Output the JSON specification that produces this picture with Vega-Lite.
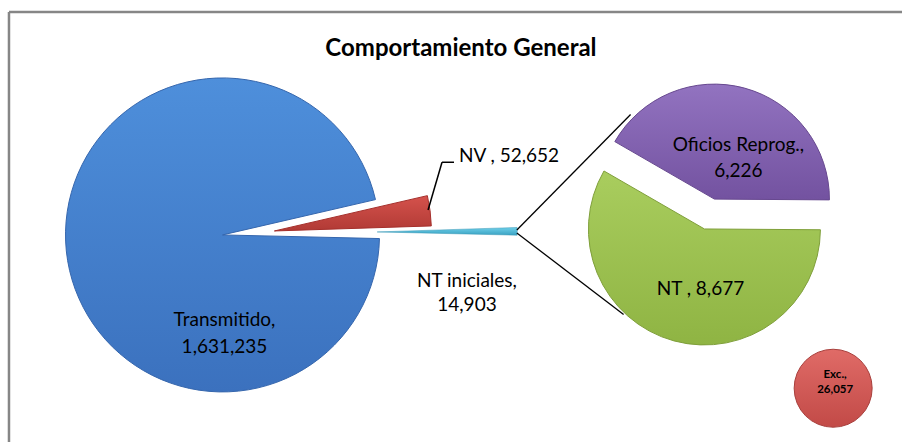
{
  "$schema": "https://vega.github.io/schema/vega-lite/v6.json",
  "autosize": {"type": "fit", "contains": "padding"},
  "width": 904,
  "height": 444,
  "padding": 0,
  "background": "white",
  "config": {"view": {"stroke": null}, "text": {"font": "Lato", "fontSize": 19, "color": "#000000"}},
  "datasets": {
    "left": [
      {"cat": "NV", "value": 52652, "ord": 1},
      {"cat": "NT iniciales", "value": 14903, "ord": 2},
      {"cat": "Transmitido", "value": 1631235, "ord": 3}
    ],
    "right": [
      {"cat": "Oficios Reprog.", "value": 6226, "ord": 1},
      {"cat": "NT", "value": 8677, "ord": 2}
    ],
    "exc": [
      {"cat": "Exc.", "value": 26057, "ord": 1}
    ],
    "one": [{"title": "Comportamiento General"}]
  },
  "resolve": {"scale": {"theta": "independent"}},
  "layer": [
    {
      "data": {"name": "one"},
      "mark": {"type": "rule", "color": "#868686", "strokeWidth": 2.5},
      "encoding": {
        "x": {"datum": 9, "type": "quantitative", "scale": {"domain": [0, 904], "nice": false, "zero": false}, "axis": null},
        "y": {"datum": 12, "type": "quantitative", "scale": {"domain": [0, 444], "nice": false, "zero": false, "reverse": true}, "axis": null},
        "y2": {"datum": 444}
      }
    },
    {
      "data": {"name": "one"},
      "mark": {"type": "rule", "color": "#868686", "strokeWidth": 2.5},
      "encoding": {
        "x": {"datum": 9, "type": "quantitative"},
        "x2": {"datum": 904},
        "y": {"datum": 12, "type": "quantitative"}
      }
    },
    {
      "data": {"name": "one"},
      "mark": {"type": "text", "fontSize": 24, "fontWeight": "bold", "align": "center", "baseline": "middle"},
      "encoding": {
        "x": {"datum": 462, "type": "quantitative"},
        "y": {"datum": 49, "type": "quantitative"},
        "text": {"field": "title"}
      }
    },
    {
      "data": {"name": "left"},
      "transform": [
        {"stack": "value", "groupby": [], "sort": [{"field": "ord", "order": "ascending"}], "offset": "normalize", "as": ["t0", "t1"]},
        {"filter": "datum.cat === 'Transmitido'"}
      ],
      "mark": {"type": "arc", "radius": 157, "stroke": "#3566ad", "strokeWidth": 1,
        "fill": {"gradient": "linear", "x1": 0, "y1": 0, "x2": 0, "y2": 1, "stops": [{"offset": 0, "color": "#4e8fdb"}, {"offset": 1, "color": "#3b71be"}]}},
      "encoding": {
        "x": {"datum": 223, "type": "quantitative"},
        "y": {"datum": 236, "type": "quantitative"},
        "theta": {"field": "t0", "type": "quantitative", "scale": {"domain": [0, 1], "range": [1.344, 7.627]}},
        "theta2": {"field": "t1"}
      }
    },
    {
      "data": {"name": "left"},
      "transform": [
        {"stack": "value", "groupby": [], "sort": [{"field": "ord", "order": "ascending"}], "offset": "normalize", "as": ["t0", "t1"]},
        {"filter": "datum.cat === 'NV'"}
      ],
      "mark": {"type": "arc", "radius": 157, "stroke": "#a52f2b", "strokeWidth": 1,
        "fill": {"gradient": "linear", "x1": 0, "y1": 0, "x2": 0, "y2": 1, "stops": [{"offset": 0, "color": "#d5524c"}, {"offset": 1, "color": "#b13a35"}]}},
      "encoding": {
        "x": {"datum": 275, "type": "quantitative"},
        "y": {"datum": 232, "type": "quantitative"},
        "theta": {"field": "t0", "type": "quantitative", "scale": {"domain": [0, 1], "range": [1.344, 7.627]}},
        "theta2": {"field": "t1"}
      }
    },
    {
      "data": {"name": "left"},
      "transform": [
        {"stack": "value", "groupby": [], "sort": [{"field": "ord", "order": "ascending"}], "offset": "normalize", "as": ["t0", "t1"]},
        {"filter": "datum.cat === 'NT iniciales'"}
      ],
      "mark": {"type": "arc", "radius": 140, "stroke": "#3797b4", "strokeWidth": 0.5,
        "fill": {"gradient": "linear", "x1": 0, "y1": 0, "x2": 0, "y2": 1, "stops": [{"offset": 0, "color": "#6fd0ea"}, {"offset": 1, "color": "#3aa2c2"}]}},
      "encoding": {
        "x": {"datum": 378, "type": "quantitative"},
        "y": {"datum": 233, "type": "quantitative"},
        "theta": {"field": "t0", "type": "quantitative", "scale": {"domain": [0, 1], "range": [1.344, 7.627]}},
        "theta2": {"field": "t1"}
      }
    },
    {
      "data": {"name": "right"},
      "transform": [
        {"stack": "value", "groupby": [], "sort": [{"field": "ord", "order": "ascending"}], "offset": "normalize", "as": ["t0", "t1"]},
        {"filter": "datum.cat === 'Oficios Reprog.'"}
      ],
      "mark": {"type": "arc", "radius": 115, "stroke": "#67488f", "strokeWidth": 1,
        "fill": {"gradient": "linear", "x1": 0, "y1": 0, "x2": 0, "y2": 1, "stops": [{"offset": 0, "color": "#9273c0"}, {"offset": 1, "color": "#7352a0"}]}},
      "encoding": {
        "x": {"datum": 716, "type": "quantitative"},
        "y": {"datum": 200, "type": "quantitative"},
        "theta": {"field": "t0", "type": "quantitative", "scale": {"domain": [0, 1], "range": [5.236, 11.519]}},
        "theta2": {"field": "t1"}
      }
    },
    {
      "data": {"name": "right"},
      "transform": [
        {"stack": "value", "groupby": [], "sort": [{"field": "ord", "order": "ascending"}], "offset": "normalize", "as": ["t0", "t1"]},
        {"filter": "datum.cat === 'NT'"}
      ],
      "mark": {"type": "arc", "radius": 116, "stroke": "#7f9f3a", "strokeWidth": 1,
        "fill": {"gradient": "linear", "x1": 0, "y1": 0, "x2": 0, "y2": 1, "stops": [{"offset": 0, "color": "#a9cd5e"}, {"offset": 1, "color": "#8fb443"}]}},
      "encoding": {
        "x": {"datum": 706, "type": "quantitative"},
        "y": {"datum": 230, "type": "quantitative"},
        "theta": {"field": "t0", "type": "quantitative", "scale": {"domain": [0, 1], "range": [5.236, 11.519]}},
        "theta2": {"field": "t1"}
      }
    },
    {
      "data": {"name": "exc"},
      "transform": [
        {"stack": "value", "groupby": [], "offset": "normalize", "as": ["t0", "t1"]}
      ],
      "mark": {"type": "arc", "radius": 39, "stroke": "#a83f3c", "strokeWidth": 1,
        "fill": {"gradient": "linear", "x1": 0, "y1": 0, "x2": 0, "y2": 1, "stops": [{"offset": 0, "color": "#e06b67"}, {"offset": 1, "color": "#c24a47"}]}},
      "encoding": {
        "x": {"datum": 835, "type": "quantitative"},
        "y": {"datum": 390, "type": "quantitative"},
        "theta": {"field": "t0", "type": "quantitative", "scale": {"domain": [0, 1], "range": [0, 6.2832]}},
        "theta2": {"field": "t1"}
      }
    },
    {
      "data": {"name": "one"},
      "mark": {"type": "rule", "color": "#000000", "strokeWidth": 1.5},
      "encoding": {
        "x": {"datum": 429, "type": "quantitative"},
        "y": {"datum": 211, "type": "quantitative"},
        "x2": {"datum": 443},
        "y2": {"datum": 163}
      }
    },
    {
      "data": {"name": "one"},
      "mark": {"type": "rule", "color": "#000000", "strokeWidth": 1.5},
      "encoding": {
        "x": {"datum": 443, "type": "quantitative"},
        "y": {"datum": 163, "type": "quantitative"},
        "x2": {"datum": 455}
      }
    },
    {
      "data": {"name": "one"},
      "mark": {"type": "rule", "color": "#000000", "strokeWidth": 1.3},
      "encoding": {
        "x": {"datum": 518, "type": "quantitative"},
        "y": {"datum": 231, "type": "quantitative"},
        "x2": {"datum": 632},
        "y2": {"datum": 115}
      }
    },
    {
      "data": {"name": "one"},
      "mark": {"type": "rule", "color": "#000000", "strokeWidth": 1.3},
      "encoding": {
        "x": {"datum": 518, "type": "quantitative"},
        "y": {"datum": 234, "type": "quantitative"},
        "x2": {"datum": 625},
        "y2": {"datum": 316}
      }
    },
    {
      "data": {"name": "left"},
      "transform": [
        {"filter": "datum.cat === 'Transmitido'"},
        {"calculate": "[datum.cat + ',', format(datum.value, ',')]", "as": "label"}
      ],
      "mark": {"type": "text", "align": "center", "baseline": "middle", "lineHeight": 27},
      "encoding": {
        "x": {"datum": 225, "type": "quantitative"},
        "y": {"datum": 321, "type": "quantitative"},
        "text": {"field": "label"}
      }
    },
    {
      "data": {"name": "left"},
      "transform": [
        {"filter": "datum.cat === 'NV'"},
        {"calculate": "datum.cat + ' , ' + format(datum.value, ',')", "as": "label"}
      ],
      "mark": {"type": "text", "align": "left", "baseline": "middle"},
      "encoding": {
        "x": {"datum": 460, "type": "quantitative"},
        "y": {"datum": 157, "type": "quantitative"},
        "text": {"field": "label"}
      }
    },
    {
      "data": {"name": "left"},
      "transform": [
        {"filter": "datum.cat === 'NT iniciales'"},
        {"calculate": "[datum.cat + ',', format(datum.value, ',')]", "as": "label"}
      ],
      "mark": {"type": "text", "align": "center", "baseline": "middle", "lineHeight": 24},
      "encoding": {
        "x": {"datum": 468, "type": "quantitative"},
        "y": {"datum": 282, "type": "quantitative"},
        "text": {"field": "label"}
      }
    },
    {
      "data": {"name": "right"},
      "transform": [
        {"filter": "datum.cat === 'Oficios Reprog.'"},
        {"calculate": "[datum.cat + ',', format(datum.value, ',')]", "as": "label"}
      ],
      "mark": {"type": "text", "align": "center", "baseline": "middle", "lineHeight": 26},
      "encoding": {
        "x": {"datum": 740, "type": "quantitative"},
        "y": {"datum": 146, "type": "quantitative"},
        "text": {"field": "label"}
      }
    },
    {
      "data": {"name": "right"},
      "transform": [
        {"filter": "datum.cat === 'NT'"},
        {"calculate": "datum.cat + ' , ' + format(datum.value, ',')", "as": "label"}
      ],
      "mark": {"type": "text", "align": "center", "baseline": "middle"},
      "encoding": {
        "x": {"datum": 702, "type": "quantitative"},
        "y": {"datum": 290, "type": "quantitative"},
        "text": {"field": "label"}
      }
    },
    {
      "data": {"name": "exc"},
      "transform": [
        {"calculate": "[datum.cat + ',', format(datum.value, ',')]", "as": "label"}
      ],
      "mark": {"type": "text", "align": "center", "baseline": "middle", "fontSize": 11.5, "fontWeight": "bold", "lineHeight": 15},
      "encoding": {
        "x": {"datum": 837, "type": "quantitative"},
        "y": {"datum": 377, "type": "quantitative"},
        "text": {"field": "label"}
      }
    }
  ]
}
